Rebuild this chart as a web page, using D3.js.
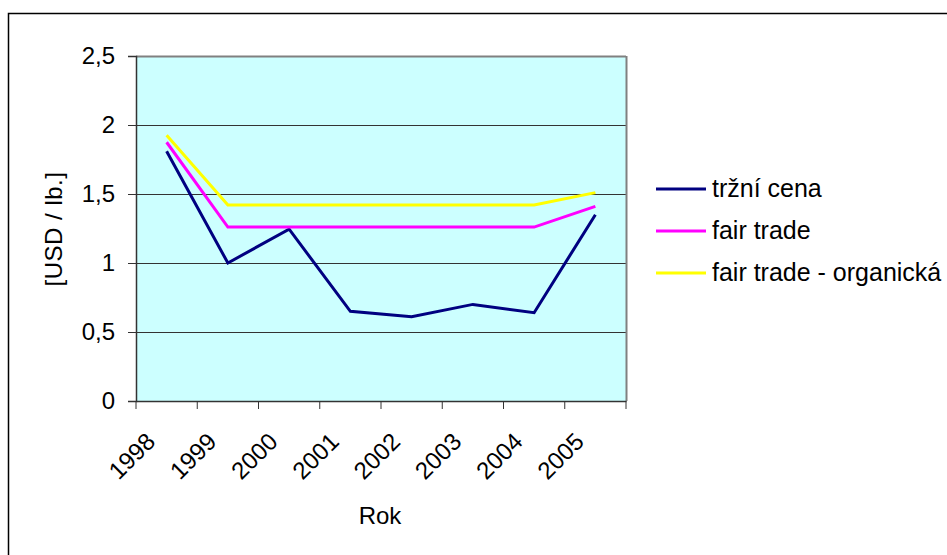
<!DOCTYPE html>
<html>
<head>
<meta charset="utf-8">
<script src="https://cdn.jsdelivr.net/npm/d3@7"></script>
<style>
  body { margin: 0; background: #fff; overflow: hidden; }
  svg text { font-family: "Liberation Sans", Arial, sans-serif; fill: #000; }
</style>
</head>
<body>
<div id="graf"></div>
<script>
// datos del grafico
const roky = ["1998", "1999", "2000", "2001", "2002", "2003", "2004", "2005"];
const trzniCena = [1.81, 1.0, 1.245, 0.65, 0.61, 0.70, 0.64, 1.35];
const fairTrade = [1.875, 1.26, 1.26, 1.26, 1.26, 1.26, 1.26, 1.41];
const fairTradeOrg = [1.925, 1.42, 1.42, 1.42, 1.42, 1.42, 1.42, 1.51];
const yTicks = [0, 0.5, 1, 1.5, 2, 2.5];
const serie = [
  { name: "tržní cena", values: trzniCena, color: "#000080" },
  { name: "fair trade", values: fairTrade, color: "#FF00FF" },
  { name: "fair trade - organická", values: fairTradeOrg, color: "#FFFF00" }
];

const W = 947, H = 555;
const fs = 24;
const margin = { top: 56, left: 136, right: 321, bottom: 154 };
const w = W - margin.left - margin.right;
const h = H - margin.top - margin.bottom;

const svg = d3.select("#graf").append("svg").attr("width", W).attr("height", H)
  .style("display", "block");

// marco exterior (sale de la imagen por la derecha y abajo)
svg.append("rect")
  .attr("x", 8.5).attr("y", 13.5)
  .attr("width", 960).attr("height", 560)
  .attr("fill", "#fff").attr("stroke", "#000").attr("stroke-width", 1.5);

const g = svg.append("g").attr("transform", `translate(${margin.left},${margin.top})`);

const x = d3.scaleBand().domain(roky).range([0, w]);
const y = d3.scaleLinear().domain([0, 2.5]).range([h, 0]);

// fondo del area
g.append("rect").attr("width", w).attr("height", h).attr("fill", "#CCFFFF");

// lineas de cuadricula
g.append("g")
  .selectAll("line")
  .data(yTicks.filter(d => d > 0))
  .join("line")
  .attr("x1", 0).attr("x2", w)
  .attr("y1", d => Math.round(y(d)) + 0.5).attr("y2", d => Math.round(y(d)) + 0.5)
  .attr("stroke", d => d === 2.5 ? "#808080" : "#333")
  .attr("stroke-width", d => d === 2.5 ? 2 : 1);

// borde derecho
g.append("line").attr("x1", w + 0.5).attr("x2", w + 0.5).attr("y1", 0).attr("y2", h)
  .attr("stroke", "#808080").attr("stroke-width", 2);

// ejes
const yAxis = g.append("g")
  .call(d3.axisLeft(y).tickValues(yTicks).tickSize(8).tickPadding(13)
    .tickFormat(d => String(d).replace(".", ",")));
yAxis.select(".domain").attr("stroke", "#333").attr("stroke-width", 1.5);
yAxis.selectAll(".tick line").attr("stroke", "#333");
yAxis.selectAll("text").attr("font-size", fs);

const xAxis = g.append("g")
  .attr("transform", `translate(0,${h})`)
  .call(d3.axisBottom(x).tickSize(0).tickFormat(""));
xAxis.select(".domain").attr("stroke", "#333").attr("stroke-width", 1.5);

// marcas entre categorias
g.append("g")
  .selectAll("line")
  .data(roky.concat(["end"]))
  .join("line")
  .attr("x1", (d, i) => i < roky.length ? x(d) : w)
  .attr("x2", (d, i) => i < roky.length ? x(d) : w)
  .attr("y1", h).attr("y2", h + 8)
  .attr("stroke", "#333");

// etiquetas giradas
g.append("g")
  .selectAll("text")
  .data(roky)
  .join("text")
  .attr("transform", d => `translate(${x(d) + x.bandwidth() / 2 - 10},${h + 42}) rotate(-45)`)
  .attr("text-anchor", "end")
  .attr("font-size", fs)
  .text(d => d);

// titulos de ejes
svg.append("text")
  .attr("x", 380).attr("y", 524)
  .attr("text-anchor", "middle").attr("font-size", fs)
  .text("Rok");

svg.append("text")
  .attr("transform", "translate(62,229) rotate(-90)")
  .attr("text-anchor", "middle").attr("font-size", fs)
  .attr("letter-spacing", 0.5)
  .text("[USD / lb.]");

// lineas de las series
const line = d3.line()
  .x((d, i) => x(roky[i]) + x.bandwidth() / 2)
  .y(d => y(d));

g.selectAll("path.serie")
  .data(serie)
  .join("path")
  .attr("class", "serie")
  .attr("d", d => line(d.values))
  .attr("fill", "none")
  .attr("stroke", d => d.color)
  .attr("stroke-width", 3);

// leyenda
const leg = svg.append("g").attr("transform", "translate(656,189)");
const item = leg.selectAll("g").data(serie).join("g")
  .attr("transform", (d, i) => `translate(0,${i * 42})`);
item.append("line").attr("x1", 0).attr("x2", 50).attr("y1", 0).attr("y2", 0)
  .attr("stroke", d => d.color).attr("stroke-width", 3);
item.append("text").attr("x", 56).attr("y", 8).attr("font-size", 25)
  .text(d => d.name);
</script>
</body>
</html>
